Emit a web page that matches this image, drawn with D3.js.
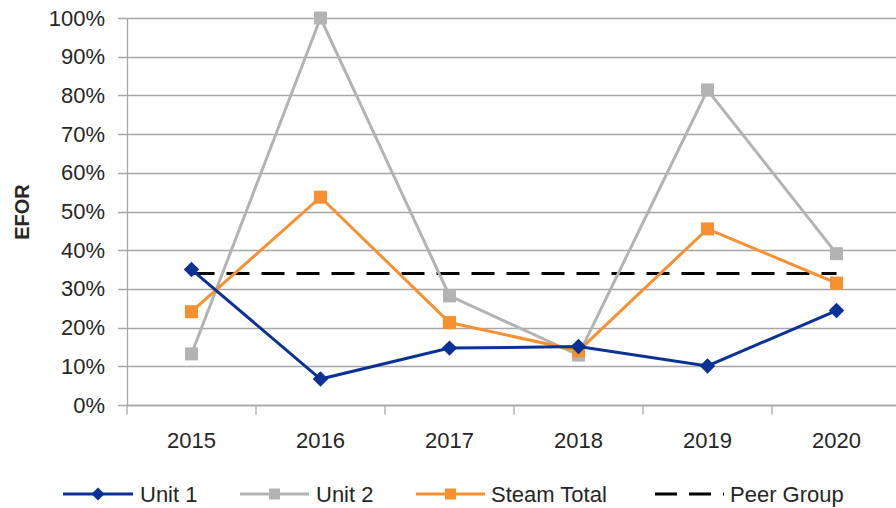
<!DOCTYPE html>
<html>
<head>
<meta charset="utf-8">
<script src="https://cdn.jsdelivr.net/npm/d3@7"></script>
<style>
  body { margin: 0; background: #fff; }
  text { font-family: "Liberation Sans", Arial, sans-serif; fill: #262626; }
</style>
</head>
<body>
<div class="chart"></div>
<script>
var years = ["2015", "2016", "2017", "2018", "2019", "2020"];
var unit1 = [0.35, 0.067, 0.147, 0.151, 0.101, 0.244];
var unit2 = [0.132, 1.0, 0.282, 0.129, 0.814, 0.391];
var steamTotal = [0.241, 0.537, 0.213, 0.140, 0.455, 0.315];
var peerGroup = [0.34, 0.34, 0.34, 0.34, 0.34, 0.34];
var yTicks = [0, 0.1, 0.2, 0.3, 0.4, 0.5, 0.6, 0.7, 0.8, 0.9, 1.0];

var svgWidth = 896;
var svgHeight = 508;

var margin = { top: 18, right: -5, bottom: 103, left: 127 };
var width = svgWidth - margin.left - margin.right;
var height = svgHeight - margin.top - margin.bottom;

var svg = d3.select(".chart")
  .append("svg")
  .attr("width", svgWidth)
  .attr("height", svgHeight);

var chartGroup = svg.append("g")
  .attr("transform", `translate(${margin.left}, ${margin.top})`);

var xScale = d3.scaleBand()
  .domain(years)
  .range([0, width]);

var yScale = d3.scaleLinear()
  .domain([0, 1])
  .range([height, 0]);

var xMid = d => xScale(d) + xScale.bandwidth() / 2;

// gridlines
chartGroup.append("g")
  .selectAll("line")
  .data(yTicks)
  .enter()
  .append("line")
  .attr("x1", -9)
  .attr("x2", width)
  .attr("y1", d => Math.round(yScale(d)) + 0.5)
  .attr("y2", d => Math.round(yScale(d)) + 0.5)
  .attr("stroke", "#a6a6a6")
  .attr("stroke-width", 1.3);

// y axis
var leftAxis = d3.axisLeft(yScale)
  .tickValues(yTicks)
  .tickFormat(d3.format(".0%"))
  .tickSize(0)
  .tickPadding(22);

var yAxisG = chartGroup.append("g").call(leftAxis);
yAxisG.select(".domain").attr("stroke", "#a6a6a6").attr("stroke-width", 1.3);
yAxisG.selectAll("text")
  .style("font-size", "22px")
  .attr("fill", "#262626")
  .style("font-family", "Liberation Sans, Arial, sans-serif");

// x axis with ticks at category boundaries
var xAxisG = chartGroup.append("g")
  .attr("transform", `translate(0, ${Math.round(height) + 0.5})`);
xAxisG.append("line")
  .attr("x1", 0).attr("x2", width)
  .attr("stroke", "#a6a6a6").attr("stroke-width", 1.3);
xAxisG.selectAll(".tick")
  .data(years.concat(["end"]))
  .enter()
  .append("line")
  .attr("x1", (d, i) => i * xScale.bandwidth())
  .attr("x2", (d, i) => i * xScale.bandwidth())
  .attr("y1", 0).attr("y2", 9)
  .attr("stroke", "#a6a6a6").attr("stroke-width", 1.3);
xAxisG.selectAll(".xlabel")
  .data(years)
  .enter()
  .append("text")
  .attr("x", d => xMid(d))
  .attr("y", 42)
  .attr("text-anchor", "middle")
  .style("font-size", "22px")
  .text(d => d);

// y axis title
chartGroup.append("text")
  .attr("transform", "rotate(-90)")
  .attr("x", 0 - 194)
  .attr("y", 0 - margin.left + 29)
  .attr("text-anchor", "middle")
  .style("font-size", "20px")
  .style("font-weight", "bold")
  .attr("fill", "#000")
  .text("EFOR");

var series = [
  { name: "Unit 1", values: unit1, color: "#0a3195", marker: "diamond" },
  { name: "Unit 2", values: unit2, color: "#b3b3b3", marker: "square" },
  { name: "Steam Total", values: steamTotal, color: "#f7902f", marker: "square" },
  { name: "Peer Group", values: peerGroup, color: "#000000", marker: "none", dash: "23,12" }
];

var line = d3.line()
  .x((d, i) => xMid(years[i]))
  .y(d => yScale(d));

function drawMarker(g, type, color, x, y, size) {
  if (type === "diamond") {
    g.append("path")
      .attr("d", d3.symbol().type(d3.symbolDiamond2).size(size * size * 0.9)())
      .attr("transform", `translate(${x}, ${y}) scale(1, 1)`)
      .attr("fill", color);
  } else if (type === "square") {
    g.append("rect")
      .attr("x", x - size / 2).attr("y", y - size / 2)
      .attr("width", size).attr("height", size)
      .attr("fill", color);
  }
}

// draw order: peer group underneath, then units
var order = [3, 1, 2, 0];
order.forEach(function(k) {
  var s = series[k];
  var g = chartGroup.append("g");
  g.append("path")
    .datum(s.values)
    .attr("d", line)
    .attr("fill", "none")
    .attr("stroke", s.color)
    .attr("stroke-width", 3)
    .attr("stroke-dasharray", s.dash || null);
  s.values.forEach(function(v, i) {
    drawMarker(g, s.marker, s.color, xMid(years[i]), yScale(v), s.marker === "diamond" ? 13 : 13);
  });
});

// legend
var legendItems = [
  { x0: 63, x1: 133, tx: 140 },
  { x0: 240, x1: 309, tx: 316 },
  { x0: 416, x1: 485, tx: 491 },
  { x0: 655, x1: 724, tx: 730 }
];
var legend = svg.append("g");
series.forEach(function(s, i) {
  var p = legendItems[i];
  var ly = 494;
  legend.append("line")
    .attr("x1", p.x0).attr("x2", p.x1)
    .attr("y1", ly).attr("y2", ly)
    .attr("stroke", s.color)
    .attr("stroke-width", 3)
    .attr("stroke-dasharray", s.dash ? "22,12" : null);
  drawMarker(legend, s.marker, s.color, (p.x0 + p.x1) / 2, ly, 11);
  legend.append("text")
    .attr("x", p.tx)
    .attr("y", ly + 8)
    .style("font-size", "22px")
    .text(s.name);
});
</script>
</body>
</html>
